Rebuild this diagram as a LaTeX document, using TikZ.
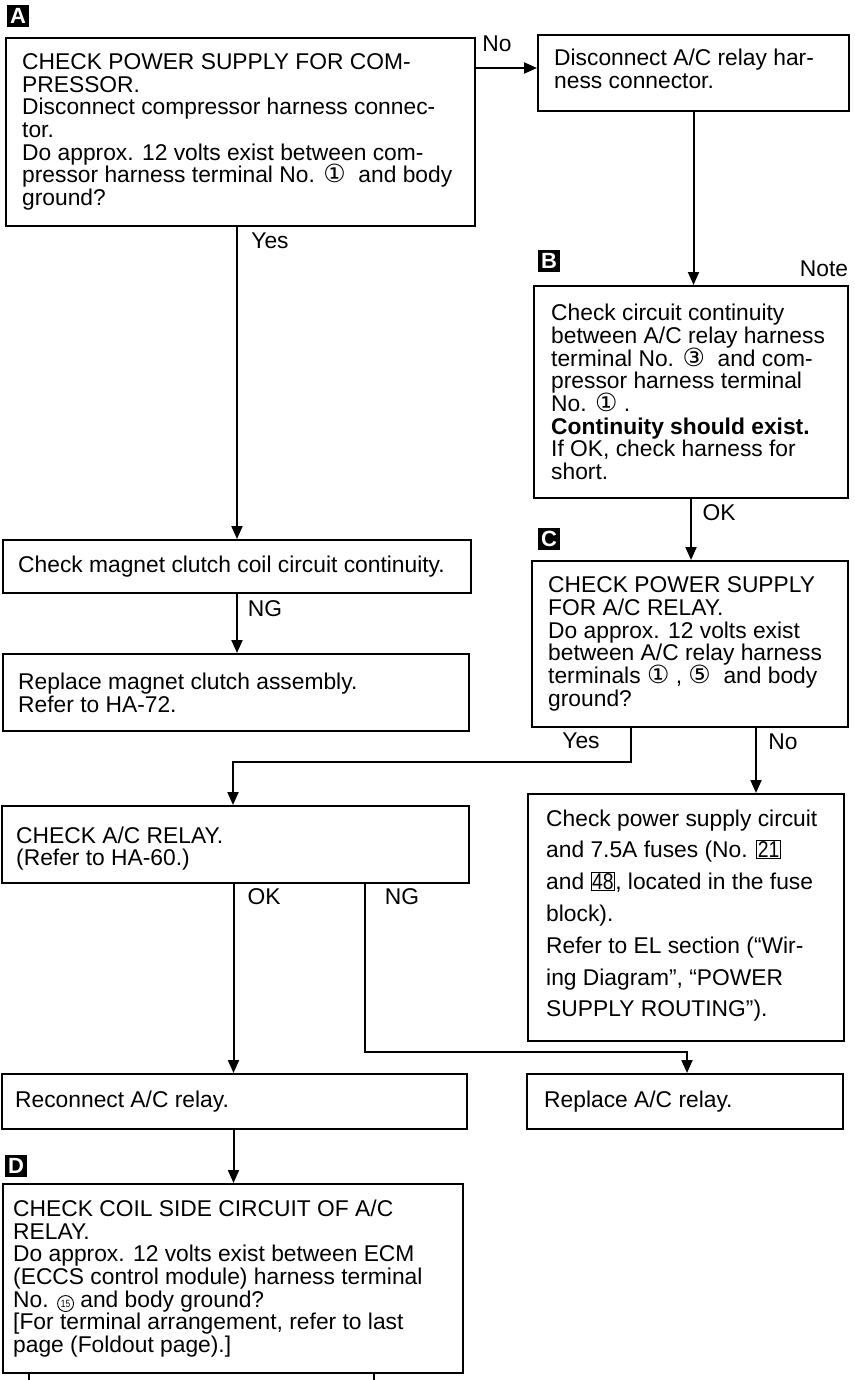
\documentclass[tikz,border=0pt]{standalone}
\usepackage{fontspec}
\usepackage{graphicx}
\setmainfont{Liberation Sans}
\newfontfamily\dv{DejaVu Sans}
\usetikzlibrary{arrows.meta,calc}
\newcommand\cnum[1]{\smash{\dv\fontsize{25}{25}\selectfont #1}}
\newcommand\boxnum[1]{{\setlength\fboxsep{0.6pt}\setlength\fboxrule{1pt}\fbox{\scalebox{0.85}[1]{#1}}}}
\newcommand\cfifteen{\smash{\tikz[baseline=(cf.base)]\node[circle, draw, line width=0.9pt, inner sep=0.6pt, minimum size=16pt, font=\fontsize{10.5}{10.5}\selectfont] (cf) {\scalebox{0.8}[1]{15}};}}
\tikzset{
  box/.style={draw, line width=2pt, anchor=north west, inner sep=0pt},
  txt/.style={anchor=west, align=left, inner sep=0pt, font=\fontsize{22.8}{22.7}\selectfont},
  lbl/.style={inner sep=0pt, font=\fontsize{22.8}{22.7}\selectfont},
  tag/.style={fill=black, text=white, minimum size=22pt, inner sep=0pt, font=\bfseries\fontsize{22}{22}\selectfont},
  conn/.style={line width=2pt},
  arr/.style={conn, -{Triangle[length=13pt,width=11pt]}},
}
\begin{document}
\begin{tikzpicture}[x=1pt,y=-1pt]
\fill[white] (0,0) rectangle (854,1380);
\useasboundingbox (0,0) rectangle (854,1380);

% boxes
\node[box, minimum width=469pt, minimum height=188pt] (A) at (5,37) {};
\node[box, minimum width=311pt, minimum height=76pt] (R1) at (537,34) {};
\node[box, minimum width=314pt, minimum height=212pt] (B) at (533,285) {};
\node[box, minimum width=316pt, minimum height=166pt] (C) at (531,560) {};
\node[box, minimum width=316pt, minimum height=247pt] (PS) at (527,793) {};
\node[box, minimum width=468pt, minimum height=53pt] (MC) at (2,539) {};
\node[box, minimum width=466pt, minimum height=77pt] (RM) at (2,653) {};
\node[box, minimum width=467pt, minimum height=77pt] (AR) at (1,805) {};
\node[box, minimum width=465pt, minimum height=55pt] (RC) at (1,1073) {};
\node[box, minimum width=316pt, minimum height=55pt] (RA) at (526,1073) {};
\node[box, minimum width=460pt, minimum height=189pt] (D) at (2,1183) {};

% texts
\node[txt] (At) at ($(A.west)+(17,0)$) {CHECK POWER SUPPLY FOR COM-\\PRESSOR.\\Disconnect compressor harness connec-\\tor.\\Do approx. 12 volts exist between com-\\pressor harness terminal No. \cnum{①}~ and body\\ground?};
\node[txt] (R1t) at ($(R1.west)+(17,-4)$) {Disconnect A/C relay har-\\ness connector.};
\node[txt] (Bt) at ($(B.west)+(18,0)$) {Check circuit continuity\\between A/C relay harness\\terminal No. \cnum{③}~ and com-\\pressor harness terminal\\No. \cnum{①} .\\\textbf{Continuity should exist.}\\If OK, check harness for\\short.};
\node[txt] (Ct) at ($(C.west)+(17,0)$) {CHECK POWER SUPPLY\\FOR A/C RELAY.\\Do approx. 12 volts exist\\between A/C relay harness\\terminals \cnum{①} , \cnum{⑤}~ and body\\ground?};
\node[txt, font=\fontsize{22.8}{31.8}\selectfont] (PSt) at ($(PS.west)+(19,-2)$) {Check power supply circuit\\and 7.5A fuses (No. \boxnum{21}\\and \boxnum{48}, located in the fuse\\block).\\Refer to EL section (“Wir-\\ing Diagram”, “POWER\\SUPPLY ROUTING”).};
\node[txt] (MCt) at ($(MC.west)+(16,0)$) {Check magnet clutch coil circuit continuity.};
\node[txt] (RMt) at ($(RM.west)+(16,0)$) {Replace magnet clutch assembly.\\Refer to HA-72.};
\node[txt] (ARt) at ($(AR.west)+(15,4)$) {CHECK A/C RELAY.\\(Refer to HA-60.)};
\node[txt] (RCt) at ($(RC.west)+(14,0)$) {Reconnect A/C relay.};
\node[txt] (RAt) at ($(RA.west)+(18,0)$) {Replace A/C relay.};
\node[txt] (Dt) at ($(D.west)+(11,0)$) {CHECK COIL SIDE CIRCUIT OF A/C\\RELAY.\\Do approx. 12 volts exist between ECM\\(ECCS control module) harness terminal\\No. \cfifteen\ and body ground?\\{[}For terminal arrangement, refer to last\\page (Foldout page).{]}};

% tags
\node[tag] (tA) at (18,16) {A};
\node[tag] (tB) at (549,261) {B};
\node[tag] (tC) at (549,539) {C};
\node[tag] (tD) at (16,1166) {D};
\node[lbl] (note) at (824,269) {Note};

% connector labels
\node[lbl] (l1) at (497,44) {No};
\node[lbl] (l2) at (270,241) {Yes};
\node[lbl] (l3) at (265,609) {NG};
\node[lbl] (l4) at (719,513) {OK};
\node[lbl] (l5) at (581,741) {Yes};
\node[lbl] (l6) at (783,742) {No};
\node[lbl] (l7) at (264,897) {OK};
\node[lbl] (l8) at (402,897) {NG};

% connectors
\draw[arr] ($(A.north east)+(0,31)$) -- ($(R1.north west)+(0,34)$);
\draw[arr] (R1.south) -- (R1.south |- B.north);
\draw[arr] (MC.north |- A.south) -- (MC.north);
\draw[arr] (MC.south) -- (MC.south |- RM.north);
\draw[arr] (B.south) -- (B.south |- C.north);
\coordinate (cy) at ($(C.south west)+(100,0)$);
\coordinate (cn) at ($(C.south west)+(225,0)$);
\draw[arr] (cy) -- ($(cy)+(0,34)$) -| ($(AR.north)+(-2.5,0)$);
\draw[arr] (cn) -- (cn |- PS.north);
\draw[arr] ($(RC.north |- AR.south)+(-1,0)$) -- ($(RC.north)+(-1,0)$);
\coordinate (ng) at ($(AR.south west)+(364,0)$);
\draw[arr] (ng) -- ($(ng)+(0,168)$) -| ($(RA.north)+(2,0)$);
\draw[arr] ($(RC.south)+(-1,0)$) -- ($(RC.south |- D.north)+(-1,0)$);
\coordinate (e1) at (29,1380);
\coordinate (e2) at (374,1380);
\draw[conn] (e1 |- D.south) -- (e1);
\draw[conn] (e2 |- D.south) -- (e2);
\end{tikzpicture}
\end{document}
